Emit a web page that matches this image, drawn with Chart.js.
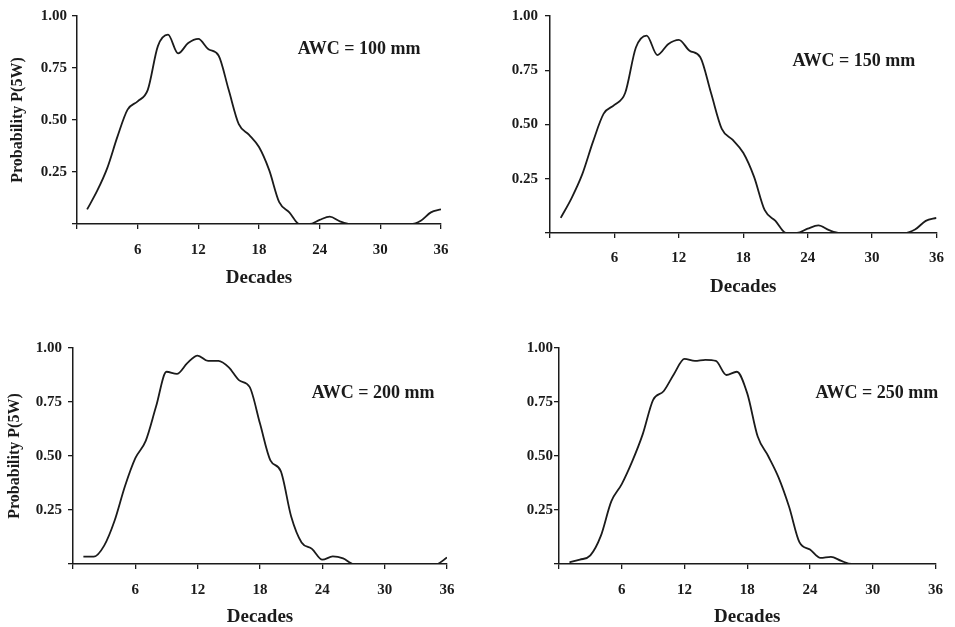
<!DOCTYPE html>
<html>
<head>
<meta charset="utf-8">
<script src="https://cdn.jsdelivr.net/npm/chart.js@4.4.1/dist/chart.umd.min.js"></script>
<style>
  body { margin: 0; background: #fff; overflow: hidden; }
  .panel { position: absolute; }
</style>
</head>
<body>
<div class="panel" style="left:0px;top:0px;width:470px;height:305px"><canvas id="c100"></canvas></div>
<div class="panel" style="left:470px;top:0px;width:485px;height:310px"><canvas id="c150"></canvas></div>
<div class="panel" style="left:0px;top:310px;width:470px;height:317px"><canvas id="c200"></canvas></div>
<div class="panel" style="left:470px;top:310px;width:485px;height:317px"><canvas id="c250"></canvas></div>
<script>
// decades of the year (1..36)
const decades = [1,2,3,4,5,6,7,8,9,10,11,12,13,14,15,16,17,18,19,20,21,22,23,24,25,26,27,28,29,30,31,32,33,34,35,36];

// probability P(5W) for each available water capacity
const awc100 = [0.07,0.16,0.27,0.42,0.55,0.59,0.645,0.855,0.91,0.82,0.87,0.89,0.84,0.81,0.645,0.48,0.43,0.37,0.26,0.105,0.056,0,0,0.02,0.035,0.013,0,0,0,0,0,0,0,0.016,0.056,0.07];
const awc150 = [0.07,0.16,0.27,0.42,0.55,0.59,0.645,0.855,0.91,0.82,0.87,0.89,0.84,0.81,0.645,0.48,0.43,0.37,0.26,0.105,0.056,0,0,0.02,0.035,0.013,0,0,0,0,0,0,0,0.016,0.056,0.07];
const awc200 = [0.034,0.034,0.085,0.20,0.36,0.49,0.57,0.73,0.89,0.88,0.93,0.965,0.94,0.94,0.91,0.85,0.82,0.65,0.48,0.43,0.22,0.10,0.07,0.02,0.035,0.026,0,0,0,0,0,0,0,0,0,0.03];
const awc250 = [0.008,0.02,0.04,0.13,0.29,0.37,0.475,0.60,0.76,0.80,0.88,0.95,0.94,0.945,0.94,0.875,0.89,0.79,0.59,0.50,0.40,0.265,0.10,0.067,0.028,0.033,0.014,0,0,0,0,0,0,0,0,0];

const xTicks = [0, 6, 12, 18, 24, 30, 36];
const yTicks = [0, 0.25, 0.5, 0.75, 1];
const panelLabels = ['AWC = 100 mm', 'AWC = 150 mm', 'AWC = 200 mm', 'AWC = 250 mm'];

const serif = "'Liberation Serif', 'Times New Roman', serif";
const ink = '#1b1b1b';
Chart.defaults.font.family = serif;
Chart.defaults.color = ink;

// draws the "AWC = ..." note inside the plot, placed through the scales
const awcLabel = {
    id: 'awcLabel',
    afterDatasetsDraw(chart, args, opts) {
        const ctx = chart.ctx;
        const px = chart.scales.x.getPixelForValue(opts.x);
        const py = chart.scales.y.getPixelForValue(opts.y);
        ctx.save();
        ctx.font = 'bold 18px ' + serif;
        ctx.fillStyle = ink;
        ctx.textAlign = 'center';
        ctx.textBaseline = 'middle';
        ctx.fillText(opts.text, px, py);
        ctx.restore();
    }
};

function makePanel(id, values, text, lay) {
    const ctx = document.getElementById(id).getContext('2d');
    return new Chart(ctx, {
        type: 'line',
        data: {
            datasets: [{
                data: decades.map((d, i) => ({ x: d, y: values[i] })),
                borderColor: ink,
                borderWidth: 1.8,
                pointRadius: 0,
                fill: false,
                tension: 0.4,
                cubicInterpolationMode: 'monotone'
            }]
        },
        options: {
            responsive: true,
            maintainAspectRatio: false,
            animation: false,
            layout: { padding: lay.padding },
            plugins: {
                legend: { display: false },
                tooltip: { enabled: false },
                awcLabel: { text: text, x: lay.labelX, y: lay.labelY }
            },
            scales: {
                x: {
                    type: 'linear',
                    min: 0,
                    max: 36,
                    afterBuildTicks: s => { s.ticks = xTicks.map(v => ({ value: v })); },
                    afterFit: s => { s.height = lay.xHeight; },
                    grid: { drawOnChartArea: false, tickLength: 5, tickColor: ink, lineWidth: 1.3 },
                    border: { color: ink, width: 1.5 },
                    ticks: {
                        padding: lay.xPad,
                        maxRotation: 0,
                        font: { size: 15, weight: 'bold' },
                        callback: v => v === 0 ? '' : String(v)
                    },
                    title: {
                        display: true,
                        text: 'Decades',
                        font: { size: 19, weight: 'bold', lineHeight: 1 },
                        padding: { top: 0, bottom: lay.titlePad }
                    }
                },
                y: {
                    min: 0,
                    max: 1,
                    afterBuildTicks: s => { s.ticks = yTicks.map(v => ({ value: v })); },
                    afterFit: s => { s.width = lay.yWidth; },
                    grid: { drawOnChartArea: false, tickLength: 5, tickColor: ink, lineWidth: 1.3 },
                    border: { color: ink, width: 1.5 },
                    ticks: {
                        padding: lay.yPad,
                        font: { size: 15, weight: 'bold' },
                        callback: v => v === 0 ? '' : v.toFixed(2)
                    },
                    title: {
                        display: lay.yTitle,
                        text: 'Probability P(5W)',
                        font: { size: 16, weight: 'bold', lineHeight: 1 },
                        padding: { top: lay.yTitlePad, bottom: 0 }
                    }
                }
            }
        },
        plugins: [awcLabel]
    });
}

makePanel('c100', awc100, panelLabels[0], {
    padding: { top: 16, right: 29, bottom: 16, left: 0 },
    yWidth: 77, xHeight: 65, xPad: 12, yPad: 5, titlePad: 1.5,
    yTitle: true, yTitlePad: 10, labelX: 27.9, labelY: 0.84
});
makePanel('c150', awc150, panelLabels[1], {
    padding: { top: 15, right: 18, bottom: 12, left: 0 },
    yWidth: 80, xHeight: 65, xPad: 11, yPad: 7, titlePad: 1.5,
    yTitle: false, yTitlePad: 0, labelX: 28.3, labelY: 0.79
});
makePanel('c200', awc200, panelLabels[2], {
    padding: { top: 38, right: 23, bottom: 0, left: 0 },
    yWidth: 73, xHeight: 63, xPad: 12, yPad: 6, titlePad: 0,
    yTitle: true, yTitlePad: 7, labelX: 28.9, labelY: 0.79
});
makePanel('c250', awc250, panelLabels[3], {
    padding: { top: 38, right: 12, bottom: 0, left: 0 },
    yWidth: 89, xHeight: 63, xPad: 12, yPad: 1, titlePad: 0,
    yTitle: false, yTitlePad: 0, labelX: 30.4, labelY: 0.79
});
</script>
</body>
</html>
